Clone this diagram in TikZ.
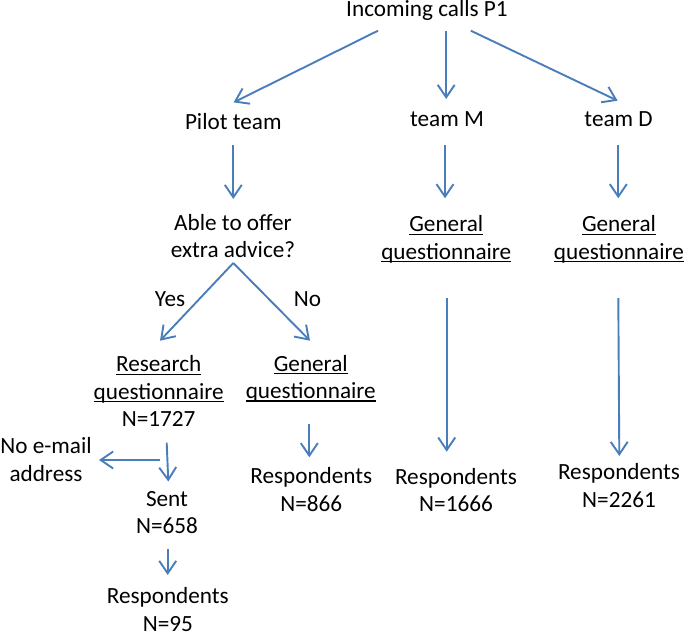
\documentclass[tikz,border=0pt]{standalone}
\usepackage{fontspec}
\setmainfont{Carlito}
\usetikzlibrary{arrows.meta}
\definecolor{arrowblue}{RGB}{74,126,187}
\newcommand{\myul}[1]{\leavevmode\setbox0=\hbox{#1}\rlap{\rule[-3.2pt]{\wd0}{1.3pt}}\box0}
\begin{document}
\begin{tikzpicture}[x=1pt,y=-1pt,
  lbl/.style={inner sep=0pt, anchor=base, align=center, font=\fontsize{23.2pt}{27.5pt}\selectfont},
  arr/.style={draw=arrowblue, line width=1.9pt, -{Straight Barb[length=12.5pt,width=17pt]}}]
\useasboundingbox (0,0) rectangle (685,634);
\fill[white] (0,0) rectangle (685,634);
% nodes (base anchor = baseline of the last line)
\node[lbl] (inc) at (427,17) {Incoming calls P1};
\node[lbl] (pilot) at (233.3,129) {Pilot team};
\node[lbl] (teamM) at (447,126.7) {team M};
\node[lbl] (teamD) at (618.6,126.7) {team D};
\node[lbl] (able) at (233,257.5) {Able to offer\\extra advice?};
\node[lbl] (yes) at (170,306) {Yes};
\node[lbl] (no) at (307.5,306) {No};
\node[lbl] (rq) at (158.7,426.7) {\myul{Research}\\\myul{questionnaire}\\N=1727};
\node[lbl] (gql) at (310.8,398.5) {\myul{General}\\\myul{questionnaire}};
\node[lbl] (noemail) at (46,481.3) {No e-mail\\address};
\node[lbl] (sent) at (167,533.5) {Sent\\N=658};
\node[lbl] (r95) at (167.8,631) {Respondents\\N=95};
\node[lbl] (r866) at (311.3,511) {Respondents\\N=866};
\node[lbl] (gqm) at (446.3,259.2) {\myul{General}\\\myul{questionnaire}};
\node[lbl] (r1666) at (456,511.5) {Respondents\\N=1666};
\node[lbl] (gqd) at (619,259.2) {\myul{General}\\\myul{questionnaire}};
\node[lbl] (r2261) at (619,507) {Respondents\\N=2261};
% connectors
\draw[arr] ([shift={(-49,13.7)}]inc.base) -- ([shift={(0.3,-26.6)}]pilot.base);
\draw[arr] ([shift={(19.2,13.7)}]inc.base) -- ([shift={(-0.8,-27.7)}]teamM.base);
\draw[arr] ([shift={(43.8,13.7)}]inc.base) -- ([shift={(-1,-26)}]teamD.base);
\draw[arr] ([shift={(0,16)}]pilot.base) -- ([shift={(0.3,-58.5)}]able.base);
\draw[arr] ([shift={(-2,18.3)}]teamM.base) -- ([shift={(-1.3,-60.9)}]gqm.base);
\draw[arr] ([shift={(-0.3,18.3)}]teamD.base) -- ([shift={(-0.7,-60.9)}]gqd.base);
\draw[arr] ([shift={(0.3,5.5)}]able.base) -- ([shift={(1.3,-86)}]rq.base);
\draw[arr] ([shift={(0.3,5.5)}]able.base) -- ([shift={(-0.8,-57.8)}]gql.base);
\draw[arr] ([shift={(8,16)}]rq.base) -- ([shift={(1.3,-52)}]sent.base);
\draw[arr] ([shift={(1.3,33.3)}]rq.base) -- ([shift={(53,-21.3)}]noemail.base);
\draw[arr] ([shift={(0.7,15.5)}]sent.base) -- ([shift={(-0.1,-56)}]r95.base);
\draw[arr] ([shift={(-1.5,25.8)}]gql.base) -- ([shift={(-2,-53.7)}]r866.base);
\draw[arr] ([shift={(0.4,38.8)}]gqm.base) -- ([shift={(-9.3,-59.8)}]r1666.base);
\draw[arr] ([shift={(-0.7,38.8)}]gqd.base) -- ([shift={(0.3,-51)}]r2261.base);
\end{tikzpicture}
\end{document}
